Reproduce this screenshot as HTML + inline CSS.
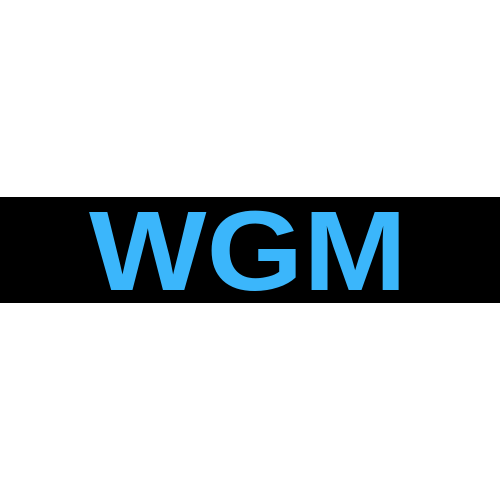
<!DOCTYPE html>
<html><head><meta charset="utf-8"><style>html,body{margin:0;padding:0;background:#fff;width:500px;height:500px;overflow:hidden}</style></head>
<body>
<svg width="500" height="500" viewBox="0 0 500 500">
<rect x="0" y="0" width="500" height="500" fill="#ffffff"/>
<rect x="0" y="197" width="500" height="106" fill="#000000"/>
<text x="89" y="290" font-family="Liberation Sans, sans-serif" font-weight="bold" font-size="113" fill="#3bb6fb" textLength="318" lengthAdjust="spacingAndGlyphs">WGM</text>
</svg>
</body></html>
